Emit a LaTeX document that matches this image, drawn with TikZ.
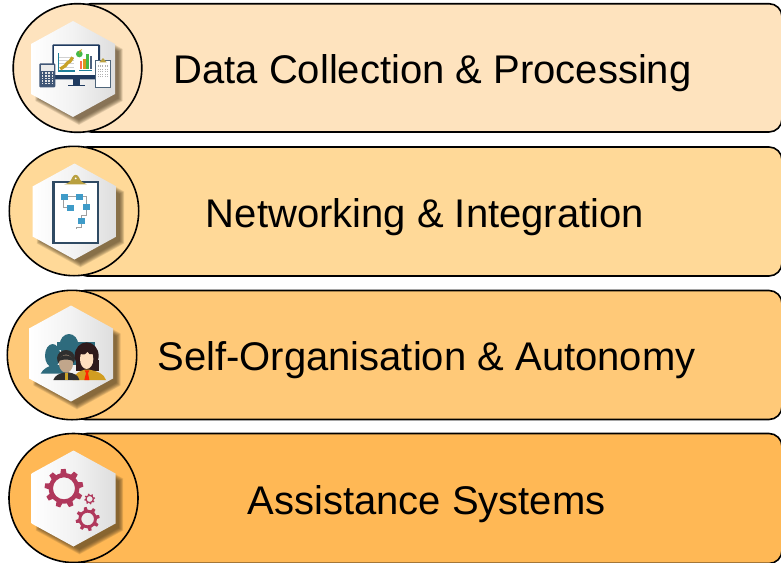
\documentclass[tikz,border=0pt]{standalone}
\usepackage{fontspec}
\setmainfont{Liberation Sans}
\definecolor{rowA}{HTML}{FEE3BE}
\definecolor{rowB}{HTML}{FFD998}
\definecolor{rowC}{HTML}{FFC978}
\definecolor{rowD}{HTML}{FFB855}
\definecolor{navy}{HTML}{1F3A5F}
\definecolor{slate}{HTML}{2F4A63}
\definecolor{tealx}{HTML}{1E7F9A}
\definecolor{goldx}{HTML}{C9A227}
\definecolor{clipg}{HTML}{B9A040}
\definecolor{boxb}{HTML}{3F9BC8}
\definecolor{peop}{HTML}{2E6B7D}
\definecolor{gearc}{HTML}{B0385C}
\definecolor{shad}{HTML}{4A3A20}
\definecolor{hairw}{HTML}{2E1A1C}
\tikzset{
  bar/.style={draw=black,line width=1.6pt,rounded corners=13pt},
  disc/.style={draw=black,line width=1.6pt},
  label/.style={font=\fontsize{40}{48}\selectfont,text=black,inner sep=0pt,anchor=center},
  zoomed/.style={x=.33333pt,y=-.33333pt},
  greyline/.style={draw=gray!75,line width=1pt},
  fbox/.style={fill=boxb},
}
\newcommand{\hexoutline}{(0,-48) -- (42,-25) -- (42,25) -- (0,48) -- (-42,25) -- (-42,-25) -- cycle}
\newcommand{\hexa}[2]{%
  \begin{scope}[shift={(#1,#2)}]
    \foreach \s in {1.04,1.025,1.01,0.995,0.98,0.965,0.95,0.935}{
      \fill[shad,opacity=.12,shift={(6,6)},scale=\s] \hexoutline;}
    \shade[left color=white,right color=black!13,middle color=white!95!black] \hexoutline;
  \end{scope}}
\newcommand{\gearx}[6]{% cx cy outer mid inner teeth
  \begin{scope}[shift={(#1,#2)}]
    \fill[gearc,even odd rule] (0,0) circle[radius=#4] (0,0) circle[radius=#5];
    \foreach \a in {1,...,#6}{
      \begin{scope}[rotate=\a*360/#6+12]
        \fill[gearc] (#4-2,-#3*.16) -- (#3,-#3*.12) -- (#3,#3*.12) -- (#4-2,#3*.16) -- cycle;
      \end{scope}}
  \end{scope}}
\begin{document}
\begin{tikzpicture}[x=1pt,y=-1pt]
\useasboundingbox (0,0) rectangle (781,562);
% bars
\draw[bar,fill=rowA] (78,3.7) rectangle (782,132);
\draw[bar,fill=rowB] (74,147) rectangle (782,276);
\draw[bar,fill=rowC] (72,290.5) rectangle (782,419.5);
\draw[bar,fill=rowD] (74,433.5) rectangle (782,563.5);
% discs
\draw[disc,fill=rowA] (77.5,68) circle[radius=64.3];
\draw[disc,fill=rowB] (74,211) circle[radius=64.7];
\draw[disc,fill=rowC] (72,355) circle[radius=64.7];
\draw[disc,fill=rowD] (73.5,498) circle[radius=64.5];
% hexagons
\hexa{73}{69}
\hexa{74.5}{211.5}
\hexa{71}{353.5}
\hexa{73.5}{498.5}
% labels
\node[label] (t1) at (432.5,73) {Data Collection \& Processing};
\node[label] (t2) at (425,217) {Networking \& Integration};
\node[label] (t3) at (426.5,360) {Self-Organisation \& Autonomy};
\node[label] (t4) at (426.5,504) {Assistance Systems};
% icon 1
\begin{scope}[zoomed]
  \fill[navy,rounded corners=1pt] (157,133) rectangle (300,238);
  \fill[white] (162,139) rectangle (295,225);
  \fill[navy] (218,238) rectangle (240,254);
  \fill[navy] (204,254) rectangle (255,258);
  \foreach \y in {170,180,190,200}{\fill[black!18] (178,\y) rectangle (222,\y+3);}
  \fill[tealx] (174,158) rectangle (178,215);
  \fill[tealx] (174,211) rectangle (224,215);
  \draw[goldx,line width=3.2pt] (181,207) -- (196,197) -- (202,189) -- (210,184) -- (218,172);
  \fill[green!45!gray] (238,162) circle[radius=10];
  \fill[goldx] (238,162) -- (238,152) arc[start angle=90,end angle=30,radius=10] -- cycle;
  \fill[red!60!orange!70] (240,183) rectangle (246,208);
  \fill[goldx!70!orange] (249,176) rectangle (257,208);
  \fill[green!45!gray] (258,162) rectangle (267,208);
  \fill[navy!80] (269,168) rectangle (275,208);
  \fill[tealx] (237,209) rectangle (277,213);
  \fill[navy!85,rounded corners=1pt] (118,190) rectangle (166,262);
  \fill[black!8] (122,194) rectangle (162,212);
  \foreach \i in {0,1,2,3}{\foreach \j in {0,1,2,3,3.9}{
    \fill[black!10] (125+\i*10,217+\j*8) rectangle ++(5,5);}}
  \draw[slate!85,line width=1pt,fill=white] (285,182) rectangle (332,261);
  \fill[black!30] (294,195) rectangle (326,235);
  \foreach \x in {298,303,...,323}{\draw[white,line width=.3pt] (\x,195) -- (\x,235);}
  \foreach \y in {200,205,...,230}{\draw[white,line width=.3pt] (294,\y) -- (326,\y);}
  \fill[clipg] (298,187) -- (304,180) -- (309,174) -- (314,180) -- (320,187) -- cycle;
\end{scope}
% icon 2
\begin{scope}[zoomed,shift={(0,420)}]
  \draw[slate,line width=2.2pt,fill=white] (160.5,125.5) rectangle (295,310);
  \fill[clipg] (193,133) .. controls (205,130) and (212,125) .. (217,112) .. controls (222,102) and (232,102) .. (237,112) .. controls (242,125) and (250,130) .. (260,133) -- cycle;
  \fill[white] (227,115) circle[radius=3];
  \draw[greyline] (204,170) -- (228,170);
  \draw[greyline] (249,170) -- (259,170) -- (259,192);
  \draw[greyline] (190,180) -- (190,203) -- (201,203);
  \draw[greyline] (259,211) -- (259,225) -- (245,225) -- (245,234);
  \draw[greyline] (245,253) -- (245,263) -- (228,263) -- (228,268);
  \fill[fbox] (183,162) rectangle (204,180);
  \fill[fbox] (228,162) rectangle (249,180);
  \fill[fbox] (201,195) rectangle (221,213);
  \fill[fbox] (249,192) rectangle (270,211);
  \fill[fbox] (234,234) rectangle (255,253);
\end{scope}
% icon 3
\begin{scope}[zoomed,shift={(0,855)}]
  \fill[peop] (207,180) ellipse[x radius=28,y radius=33];
  \fill[peop] (158,212) ellipse[x radius=23,y radius=35];
  \fill[peop] (122,266) .. controls (130,250) and (145,245) .. (158,240) -- (200,240) -- (200,266) -- cycle;
  \fill[peop] (170,172) rectangle (285,195);
  \fill[peop] (215,195) rectangle (240,240);
  % woman
  \fill[hairw] (260,212) ellipse[x radius=36,y radius=40];
  \fill[hairw] (227,225) rectangle (298,258);
  \fill[goldx!85!orange] (218,285) .. controls (225,262) and (240,258) .. (255,254) -- (268,254) .. controls (290,258) and (312,265) .. (318,285) -- cycle;
  \fill[orange!25!white] (260,222) ellipse[x radius=20,y radius=30];
  \fill[hairw] (240,205) .. controls (250,185) and (270,185) .. (282,205) .. controls (270,210) and (265,208) .. (262,200) .. controls (258,208) and (250,212) .. (240,205) -- cycle;
  \fill[red!70!orange] (254,256) -- (268,256) -- (264,264) -- (268,285) -- (253,285) -- (258,264) -- cycle;
  % man
  \fill[black!82] (160,285) .. controls (165,270) and (180,265) .. (195,262) -- (205,262) .. controls (222,265) and (235,270) .. (238,285) -- cycle;
  \fill[goldx] (194,264) -- (204,264) -- (204,285) -- (194,285) -- cycle;
  \fill[black!82] (198,220) ellipse[x radius=27,y radius=25];
  \fill[brown!60!gray!70!white] (198,236) ellipse[x radius=21,y radius=27];
  \fill[black!82] (176,228) .. controls (180,205) and (215,205) .. (220,228) .. controls (205,222) and (190,222) .. (176,228) -- cycle;
\end{scope}
% icon 4
\begin{scope}[zoomed,shift={(0,1275)}]
  \gearx{192}{190}{58}{46}{33}{9}
  \gearx{263}{282}{36}{28}{19}{8}
  \gearx{269}{222}{16}{13}{9}{8}
\end{scope}
\end{tikzpicture}
\end{document}
